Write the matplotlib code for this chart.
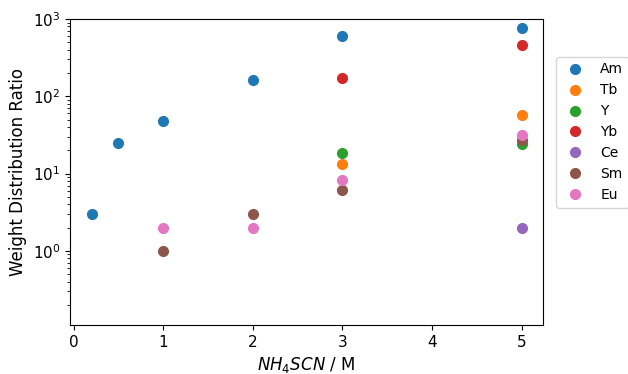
import matplotlib
matplotlib.use("Agg")
import matplotlib.pyplot as plt

# --- Data ---
am_x = [0.2, 0.5, 1, 2, 3, 5]
am_y = [3, 25, 48, 163, 600, 760]
tb_x = [3, 5]
tb_y = [13.5, 58]
y_x = [3, 5]
y_y = [18.5, 24]
yb_x = [3, 5]
yb_y = [170, 460]
ce_x = [5]
ce_y = [2]
sm_x = [1, 2, 3, 5]
sm_y = [1, 3, 6.1, 27]
eu_x = [1, 2, 3, 5]
eu_y = [2, 2, 8.2, 32]

series = [
    ("Am", am_x, am_y),
    ("Tb", tb_x, tb_y),
    ("Y", y_x, y_y),
    ("Yb", yb_x, yb_y),
    ("Ce", ce_x, ce_y),
    ("Sm", sm_x, sm_y),
    ("Eu", eu_x, eu_y),
]

# --- Plotting ---
fig = plt.figure(figsize=(6.28, 3.74), dpi=100)
ax = fig.add_axes([70 / 628, 1 - 325 / 374, 473 / 628, 306 / 374])
for name, xs, ys in series:
    ax.plot(xs, ys, "o", markersize=7, label=name)

ax.set_yscale("log")
ax.set_ylim(0.11, 1000)
ax.set_xlabel("$NH_4SCN$ / M", fontsize=12)
ax.set_ylabel("Weight Distribution Ratio", fontsize=12)
ax.tick_params(labelsize=11)
ax.legend(loc="upper left", bbox_to_anchor=(1.027, 0.876), borderaxespad=0, fontsize=10)

fig.savefig("out.png", dpi=100)
